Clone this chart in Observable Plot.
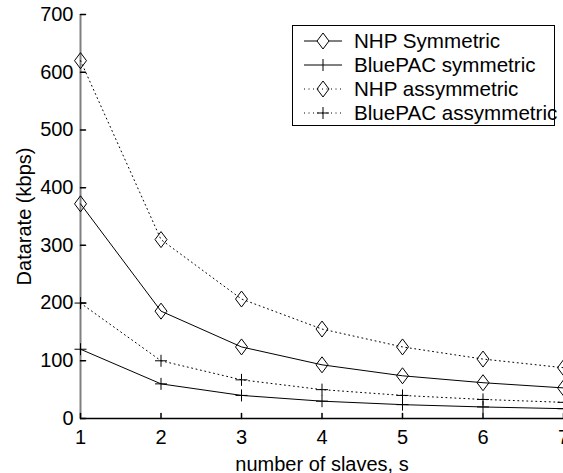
<!DOCTYPE html>
<html><head><meta charset="utf-8">
<script src="https://cdn.jsdelivr.net/npm/d3@7"></script>
<script src="https://cdn.jsdelivr.net/npm/@observablehq/plot@0.6"></script>
<style>
body{margin:0;background:#fff;font-family:"Liberation Sans",Arial,Helvetica,sans-serif;}
#wrap{position:relative;width:563px;height:473px;overflow:hidden;}
.legend{position:absolute;left:292px;top:25px;width:261px;height:99px;border:1px solid #000;background:#fff;overflow:visible;}
.row{position:absolute;left:0;height:24px;display:flex;align-items:center;white-space:nowrap;font-size:20.6px;color:#000;}
.row svg{margin-left:10px;margin-right:11px;}
</style></head><body><div id="wrap"></div><script>
const slaves = [1, 2, 3, 4, 5, 6, 7];
const nhpSymmetric = [372, 186, 124, 93, 74, 62, 53];
const bluePacSymmetric = [120, 60, 40, 30, 24, 20, 17];
const nhpAsymmetric = [620, 310, 207, 155, 124, 103, 88];
const bluePacAsymmetric = [200, 100, 67, 50, 40, 33, 28];
const seriesNames = ["NHP Symmetric", "BluePAC symmetric", "NHP assymmetric", "BluePAC assymmetric"];
const xTicks = [1, 2, 3, 4, 5, 6, 7];
const yTicks = [0, 100, 200, 300, 400, 500, 600, 700];

const seriesValues = [nhpSymmetric, bluePacSymmetric, nhpAsymmetric, bluePacAsymmetric];
const seriesMarker = ["diamond", "plus", "diamond", "plus"];
const seriesDotted = [false, false, true, true];

const rows = [];
seriesNames.forEach((name, i) => {
  slaves.forEach((s, j) => rows.push({s, v: seriesValues[i][j], series: name, marker: seriesMarker[i], dotted: seriesDotted[i]}));
});

const diamondSym = {draw(ctx, size) {
  const r = Math.sqrt(size / Math.PI), w = r * 0.75;
  ctx.moveTo(0, -r); ctx.lineTo(w, 0); ctx.lineTo(0, r); ctx.lineTo(-w, 0); ctx.closePath();
}};
const plusSym = {draw(ctx, size) {
  const r = Math.sqrt(size / Math.PI);
  ctx.moveTo(-r, 0); ctx.lineTo(r, 0); ctx.moveTo(0, -r); ctx.lineTo(0, r);
}};
const tickShape = {draw(ctx, l) { ctx.moveTo(0, 0); ctx.lineTo(0, -l); }};

const chart = Plot.plot({
  width: 563,
  height: 473,
  marginLeft: 80,
  marginRight: 0,
  marginTop: 14,
  marginBottom: 55,
  style: {fontSize: "20px", fontFamily: '"Liberation Sans", Arial, Helvetica, sans-serif', color: "#000", background: "#fff", overflow: "hidden"},
  x: {domain: [1, 7]},
  y: {domain: [0, 700]},
  marks: [
    Plot.ruleY([0], {stroke: "#000", strokeWidth: 1.5}),
    Plot.ruleX([1], {stroke: "#808080", strokeWidth: 2}),
    Plot.vector(yTicks, {y: d => d, frameAnchor: "left", length: 5, rotate: 90, anchor: "start", shape: tickShape, stroke: "#000"}),
    Plot.vector(xTicks, {x: d => d, frameAnchor: "bottom", length: 5, rotate: 0, anchor: "start", shape: tickShape, stroke: "#000"}),
    Plot.axisX({ticks: xTicks, tickSize: 0, tickPadding: 11, tickFormat: d => String(d), label: "number of slaves, s", labelAnchor: "center", labelOffset: 52, labelArrow: "none"}),
    Plot.axisY({ticks: yTicks, tickSize: 0, tickPadding: 7, tickFormat: d => String(d), label: "Datarate (kbps)", labelAnchor: "center", labelOffset: 64, labelArrow: "none"}),
    Plot.line(rows.filter(d => !d.dotted), {x: "s", y: "v", z: "series", stroke: "#000", strokeWidth: 1}),
    Plot.line(rows.filter(d => d.dotted), {x: "s", y: "v", z: "series", stroke: "#000", strokeWidth: 1, strokeDasharray: "1,3.5"}),
    Plot.dot(rows.filter(d => d.marker === "diamond"), {x: "s", y: "v", symbol: diamondSym, r: 8, fill: "none", stroke: "#000", strokeWidth: 1}),
    Plot.dot(rows.filter(d => d.marker === "plus"), {x: "s", y: "v", symbol: plusSym, r: 6, fill: "none", stroke: "#000", strokeWidth: 1})
  ]
});
const wrap = document.getElementById("wrap");
wrap.appendChild(chart);

const legend = document.createElement("div");
legend.className = "legend";
seriesNames.forEach((name, i) => {
  const row = document.createElement("div");
  row.className = "row";
  row.style.top = (3 + i * 24) + "px";
  const dash = seriesDotted[i] ? ' stroke-dasharray="1,3.5"' : '';
  const mk = seriesMarker[i] === "diamond"
    ? '<path d="M20,2L26,10L20,18L14,10Z" fill="none" stroke="#000"/>'
    : '<path d="M14,10H26M20,4V16" fill="none" stroke="#000"/>';
  const line = seriesDotted[i]
    ? `<line x1="1" y1="10" x2="39" y2="10" stroke="#000"${dash}/>`
    : '<line x1="1" y1="10" x2="14" y2="10" stroke="#000"/><line x1="26" y1="10" x2="39" y2="10" stroke="#000"/>';
  row.innerHTML = `<svg width="40" height="20">${line}${mk}</svg><span>${name}</span>`;
  legend.appendChild(row);
});
wrap.appendChild(legend);
</script></body></html>
